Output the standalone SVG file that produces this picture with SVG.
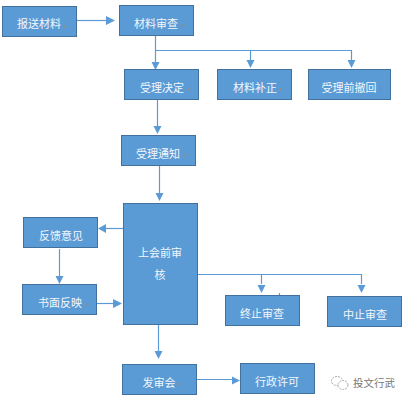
<svg xmlns="http://www.w3.org/2000/svg" width="406" height="401" viewBox="0 0 406 401">
<style>
.b{fill:#5b9bd5;stroke:#41719c;stroke-width:1}
.t{font-family:"Noto Sans CJK SC","Liberation Sans",sans-serif;font-size:11px;fill:#f2f7fc}
.c{fill:none;stroke:#5b9bd5;stroke-width:1.2}
.a{fill:#5b9bd5;stroke:none}
.m{fill:none;stroke:#9a8478;stroke-width:.7}
</style>
<defs><path id="h" d="M-4-8H4L0 0Z" class="a"/></defs>
<rect width="406" height="401" fill="#fff"/>
<g id="connectors">
<path class="c" d="M77 20.500H107"/><path class="a" d="M106 16L115 20.500L106 25Z"/>
<path class="c" d="M155.500 36V64"/><use href="#h" transform="translate(155.500 70)"/>
<path class="c" d="M156 50.500H351.500V60"/><path class="c" d="M250.500 50.500V62"/>
<use href="#h" transform="translate(250.500 68)"/><use href="#h" transform="translate(351.500 68)"/>
<path class="c" d="M157.500 100V127"/><use href="#h" transform="translate(157.500 134)"/>
<path class="c" d="M159.500 166V195"/><use href="#h" transform="translate(159.500 201)"/>
<path class="c" d="M123 228.500H104"/><path class="a" d="M106 224V233L98 228.500Z"/>
<path class="c" d="M59.500 249V277"/><use href="#h" transform="translate(59.500 284)"/>
<path class="c" d="M97 303.500H115"/><path class="a" d="M113 299L122 303.500L113 308Z"/>
<path class="c" d="M158.500 325V353"/><use href="#h" transform="translate(158.500 359)"/>
<path class="c" d="M198 274.500H361.500V284M261.500 274.500V284"/>
<use href="#h" transform="translate(261.500 293)"/><use href="#h" transform="translate(361.500 293)"/>
<path class="c" d="M197 379.500H234"/><path class="a" d="M232 376.500L240 380.500L232 384.500Z"/>
<path class="c" d="M279.500 293V295" stroke-width=".8"/>
</g>
<g id="n1"><rect class="b" x="2.500" y="6.500" width="74" height="30"/><text class="t" x="39" y="28" text-anchor="middle">报送材料</text><path class="m" d="M64.500 25V28"/></g>
<g id="n2"><rect class="b" x="119.500" y="5.500" width="74" height="30"/><text class="t" x="156" y="28" text-anchor="middle">材料审查</text><path class="m" d="M182.500 24V27"/></g>
<g id="n3"><rect class="b" x="124.500" y="69.500" width="74" height="30"/><text class="t" x="162" y="92" text-anchor="middle">受理决定</text><path class="m" d="M188.500 88V91"/></g>
<g id="n4"><rect class="b" x="217.500" y="69.500" width="74" height="30"/><text class="t" x="255" y="92" text-anchor="middle">材料补正</text><path class="m" d="M280.500 88V91"/></g>
<g id="n5"><rect class="b" x="308.500" y="69.500" width="82" height="30"/><text class="t" x="349" y="92" text-anchor="middle">受理前撤回</text><path class="m" d="M381.500 88V91"/></g>
<g id="n6"><rect class="b" x="121.500" y="135.500" width="74" height="30"/><text class="t" x="158" y="158" text-anchor="middle">受理通知</text><path class="m" d="M184.500 154V157"/></g>
<g id="n7"><rect class="b" x="123.500" y="203.500" width="74" height="121"/><text class="t" x="160" y="257" text-anchor="middle">上会前审</text><text class="t" x="160" y="279" text-anchor="middle">核</text><path class="m" d="M169.500 275V278"/></g>
<g id="n8"><rect class="b" x="23.500" y="217.500" width="74" height="30"/><text class="t" x="61" y="239.500" text-anchor="middle">反馈意见</text><path class="m" d="M85.500 236V239"/></g>
<g id="n9"><rect class="b" x="22.500" y="284.500" width="74" height="30"/><text class="t" x="60" y="306.500" text-anchor="middle">书面反映</text><path class="m" d="M86.500 303V306"/></g>
<g id="n10"><rect class="b" x="122.500" y="364.500" width="74" height="30"/><text class="t" x="159" y="387" text-anchor="middle">发审会</text><path class="m" d="M178.500 383V386"/></g>
<g id="n11"><rect class="b" x="225.500" y="295.500" width="74" height="30"/><text class="t" x="262" y="318" text-anchor="middle">终止审查</text><path class="m" d="M287.500 314V317"/></g>
<g id="n12"><rect class="b" x="327.500" y="296.500" width="74" height="30"/><text class="t" x="365" y="319" text-anchor="middle">中止审查</text><path class="m" d="M391.500 315V318"/></g>
<g id="n13"><rect class="b" x="240.500" y="363.500" width="74" height="30"/><text class="t" x="277" y="385.500" text-anchor="middle">行政许可</text><path class="m" d="M303.500 382V385"/></g>
<ellipse cx="337" cy="381" rx="5.500" ry="4.500" fill="#fff" stroke="#aaa" stroke-width="1" stroke-dasharray="2 1"/>
<ellipse cx="343" cy="385" rx="5" ry="4.500" fill="#fff" stroke="#aaa" stroke-width="1" stroke-dasharray="2 1"/>
<text x="374" y="387" text-anchor="middle" font-family="'Noto Sans CJK SC',sans-serif" font-size="10.500px" fill="#777">投文行武</text>
</svg>
